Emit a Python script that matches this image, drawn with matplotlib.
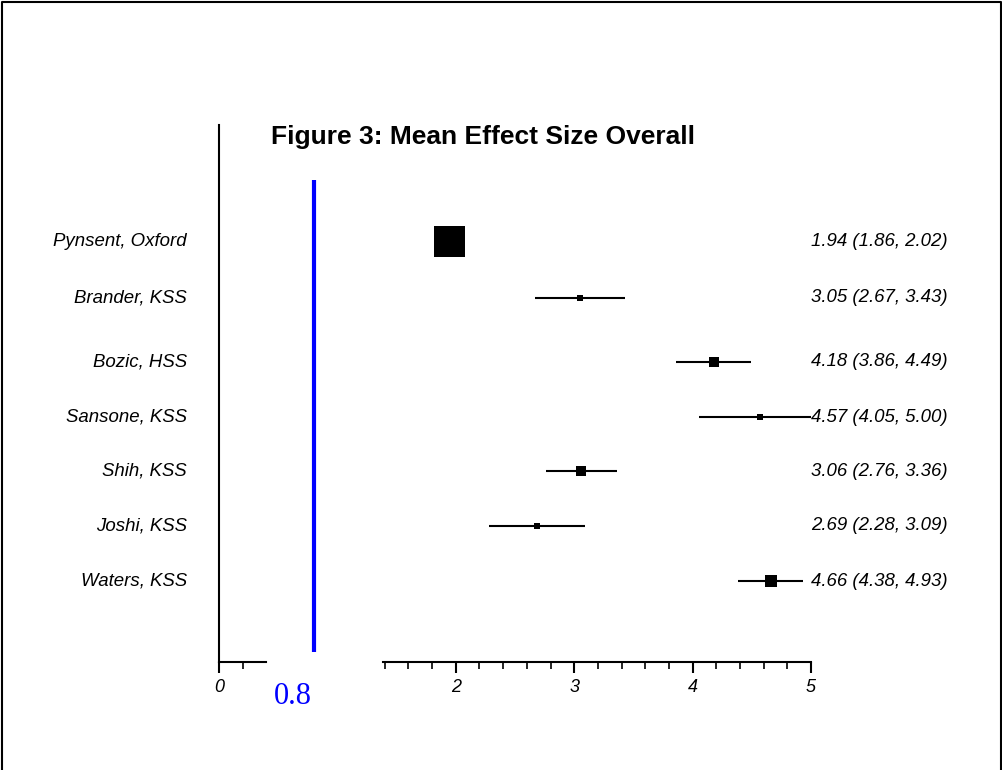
import matplotlib
matplotlib.use("Agg")
from matplotlib import pyplot as plt
from matplotlib.lines import Line2D
from matplotlib.ticker import MultipleLocator
from matplotlib.transforms import blended_transform_factory

# Study data
studies = ["Pynsent, Oxford", "Brander, KSS", "Bozic, HSS", "Sansone, KSS",
           "Shih, KSS", "Joshi, KSS", "Waters, KSS"]
means = [1.94, 3.05, 4.18, 4.57, 3.06, 2.69, 4.66]
lower = [1.86, 2.67, 3.86, 4.05, 2.76, 2.28, 4.38]
upper = [2.02, 3.43, 4.49, 5.00, 3.36, 3.09, 4.93]
box_px = [31, 6, 10, 6, 10, 6, 12]
ref_value = 0.8

W, H = 1003, 770
fig = plt.figure(figsize=(W / 100, H / 100), dpi=100)
plt.rcParams["font.family"] = ["Liberation Sans", "DejaVu Sans"]

# layout (pixels)
x0_px, x5_px = 219, 811
axis_y_px, top_px = 662, 125
row_y = [241, 298, 362, 417, 471, 526, 581]


def fx(px):
    return px / W


def fy(py):
    return 1 - py / H


ax = fig.add_axes([fx(x0_px), fy(axis_y_px), fx(x5_px - x0_px), (axis_y_px - top_px) / H])
ax.set_xlim(0, 5)
ax.set_ylim(axis_y_px, top_px)
ax.patch.set_visible(False)
for s in ["top", "right", "bottom"]:
    ax.spines[s].set_visible(False)
ax.spines["left"].set_linewidth(1.5)
ax.set_xticks([])
ax.set_yticks([])

# reference line
ax.plot([ref_value, ref_value], [652, 180], color="#0000ff", lw=3, solid_capstyle="butt")

# figure-x / data-y transform for the row labels
row_tf = blended_transform_factory(fig.transFigure, ax.transData)

# CIs and boxes
for i in range(len(studies)):
    y = row_y[i]
    ax.plot([lower[i], upper[i]], [y, y], color="black", lw=1.5, solid_capstyle="butt")
    ax.plot(means[i], y, marker="s", color="black", markersize=box_px[i] * 0.72,
            markeredgewidth=0)
    ax.text(fx(187), y, studies[i], ha="right", va="center", fontsize=13.4,
            style="italic", transform=row_tf, clip_on=False)
    txt = "%.2f (%.2f, %.2f)" % (means[i], lower[i], upper[i])
    ax.text(fx(948), y, txt, ha="right", va="center", fontsize=13.4,
            style="italic", transform=row_tf, clip_on=False)

# broken x axis made of two segment axes
scale = (x5_px - x0_px) / 5.0
segments = [(0.0, 0.395), (1.385, 5.0)]
for lo, hi in segments:
    left_px = x0_px + lo * scale
    width_px = (hi - lo) * scale
    sa = fig.add_axes([fx(left_px), fy(axis_y_px), fx(width_px), 0.0001])
    sa.set_xlim(lo, hi)
    sa.patch.set_visible(False)
    for s in ["top", "right", "left"]:
        sa.spines[s].set_visible(False)
    sa.spines["bottom"].set_linewidth(1.5)
    sa.set_yticks([])
    sa.xaxis.set_major_locator(MultipleLocator(1))
    sa.xaxis.set_minor_locator(MultipleLocator(0.2))
    sa.tick_params(axis="x", which="major", length=8, width=1.5, direction="out",
                   labelsize=13, pad=4)
    sa.tick_params(axis="x", which="minor", length=5, width=1.2, direction="out")
    for lab in sa.get_xticklabels():
        lab.set_style("italic")

fig.text(fx(x0_px + ref_value * scale - 2), fy(697), "0.8", color="#0000ff",
         fontsize=22, family="Liberation Serif", va="center", ha="right")

fig.text(fx(271), fy(137), "Figure 3: Mean Effect Size Overall", fontsize=19,
         fontweight="bold", ha="left", va="center")

# outer frame (left, top, right)
frame = Line2D([fx(2), fx(2), fx(1001), fx(1001)], [0, fy(2), fy(2), 0],
               transform=fig.transFigure, color="black", lw=1.5)
fig.add_artist(frame)

fig.savefig("out.png", dpi=100)
